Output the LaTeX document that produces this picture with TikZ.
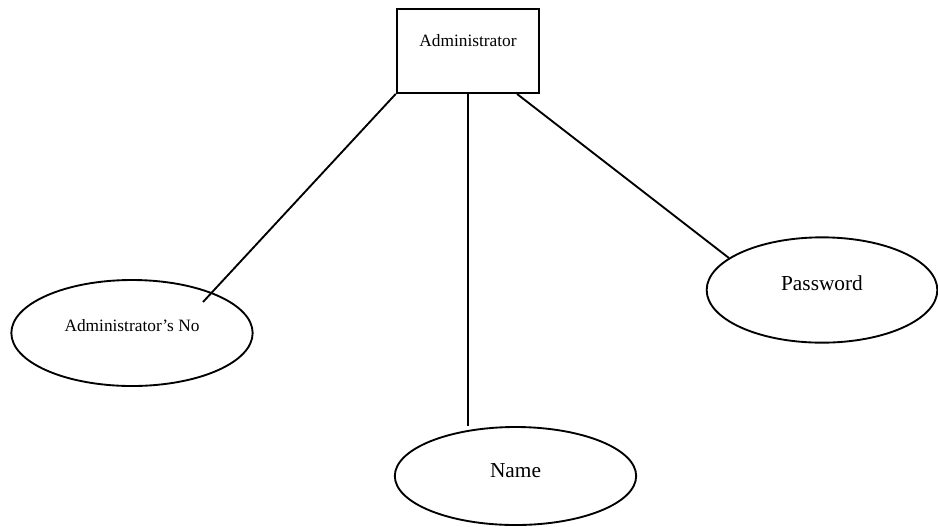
\documentclass[tikz,border=0pt]{standalone}
\usepackage{fontspec}
\setmainfont{Liberation Serif}
\usetikzlibrary{shapes,shapes.geometric,calc,positioning}

\begin{document}
\begin{tikzpicture}[x=0.75pt,y=-0.75pt,line width=1.4pt,
	entity/.style={draw,rectangle,minimum width=107pt,minimum height=63pt,inner sep=0pt,
		font=\fontsize{13}{15}\selectfont,text height=9pt,text depth=15.2pt},
	attr/.style={draw,ellipse,inner sep=0pt},
	small/.style={font=\fontsize{13}{15}\selectfont,text height=9pt,text depth=10.7pt},
	big/.style={font=\fontsize{16}{19}\selectfont}]
				\useasboundingbox (0,0) rectangle (938,526);
				% entity and its attributes
				\node[entity] (admin) at (468,51) {Administrator};
				\node[attr,small,minimum width=181pt,minimum height=79.5pt] (adminno) at (132,333) {Administrator’s No};
				\node[attr,big,text height=11pt,text depth=11pt,minimum width=173pt,minimum height=79pt] (pass) at (822,290) {Password};
				\node[attr,big,text height=11pt,text depth=9.4pt,minimum width=181pt,minimum height=73.5pt] (name) at (515.5,476) {Name};
				\coordinate (noend) at ($(adminno.center)+(71,-31)$);
				% links
				\draw (admin.south west) -- (noend);
				\draw (admin.south) -- (admin.south |- name.north);
				\draw ($(admin.south)+(49,0)$) -- (pass.161);
			\end{tikzpicture}
\end{document}
